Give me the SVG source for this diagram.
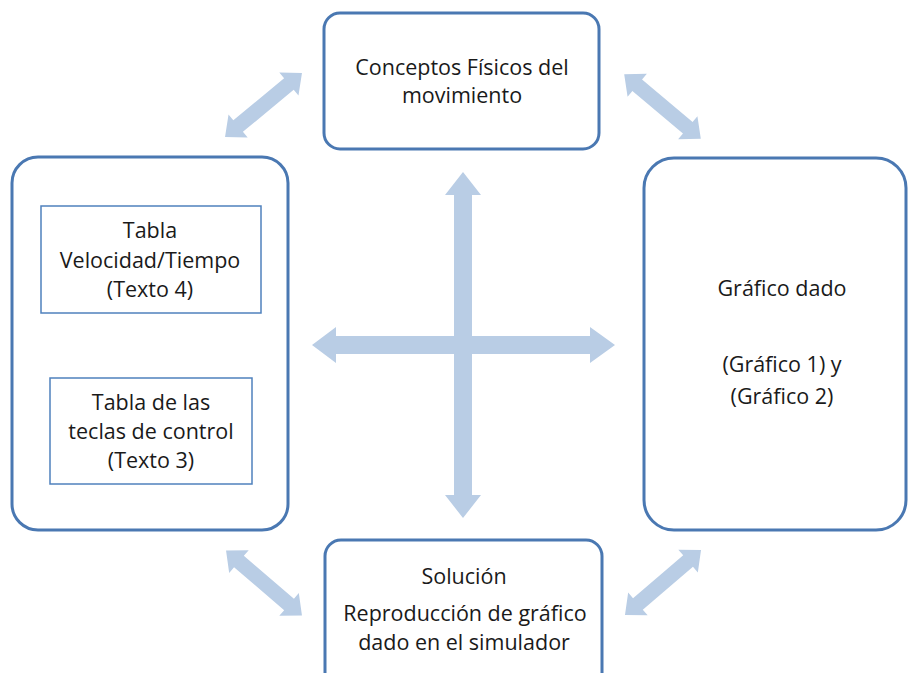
<svg xmlns="http://www.w3.org/2000/svg" width="908" height="673" viewBox="0 0 908 673">
<style>
.box{fill:#ffffff;stroke:#4a78b2;stroke-width:3}
.inner{fill:#ffffff;stroke:#4f81bd;stroke-width:1.5}
.arr{fill:#b9cde5;stroke:none}
text{font-family:"Open Sans","Liberation Sans",sans-serif;font-size:21.5px;fill:#1a1a1a;text-anchor:middle}
</style>
<defs>
<polygon id="diag" points="-50,0 -33,-15 -33,-7.5 33,-7.5 33,-15 50,0 33,15 33,7.5 -33,7.5 -33,15"/>
</defs>
<rect x="0" y="0" width="908" height="673" fill="#ffffff"/>
<g id="connectors">
<use href="#diag" class="arr" transform="translate(263.5,105) rotate(-39.7)"/>
<use href="#diag" class="arr" transform="translate(662.5,106.5) rotate(40)"/>
<use href="#diag" class="arr" transform="translate(264,583) rotate(40.6)"/>
<use href="#diag" class="arr" transform="translate(663,582.5) rotate(-40.5)"/>
<polygon class="arr" points="463,172 445,195 454,195 454,495 445,495 463,518 481,495 472,495 472,195 481,195"/>
<polygon class="arr" points="312,345 336,327 336,336 590,336 590,327 615,345 590,363 590,354 336,354 336,363"/>
<polygon class="arr" points="150,316 142,329 146.5,329 146.5,365 142,365 150,378 158,365 153.5,365 153.5,329 158,329"/>
</g>
<g id="n-conceptos">
<rect class="box" x="324" y="13" width="275" height="136" rx="16"/>
<text x="462" y="75">Conceptos Físicos del</text>
<text x="462" y="103">movimiento</text>
</g>
<g id="n-izquierda">
<rect class="box" x="12" y="157" width="276" height="373" rx="26"/>
</g>
<g id="n-tabla-vel">
<rect class="inner" x="41" y="206" width="220" height="107"/>
<text x="150" y="238">Tabla</text>
<text x="150" y="268">Velocidad/Tiempo</text>
<text x="150" y="297">(Texto 4)</text>
</g>
<g id="n-tabla-teclas">
<rect class="inner" x="50" y="378" width="202" height="106"/>
<text x="151" y="410">Tabla de las</text>
<text x="151" y="439">teclas de control</text>
<text x="151" y="468">(Texto 3)</text>
</g>
<g id="n-grafico">
<rect class="box" x="644" y="158" width="262" height="372" rx="30"/>
<text x="782" y="296">Gráfico dado</text>
<text x="782" y="372">(Gráfico 1) y</text>
<text x="782" y="404">(Gráfico 2)</text>
</g>
<g id="n-solucion">
<rect class="box" x="325" y="540" width="277" height="160" rx="16"/>
<text x="464" y="584">Solución</text>
<text x="465" y="621">Reproducción de gráfico</text>
<text x="464" y="650">dado en el simulador</text>
</g>
</svg>
